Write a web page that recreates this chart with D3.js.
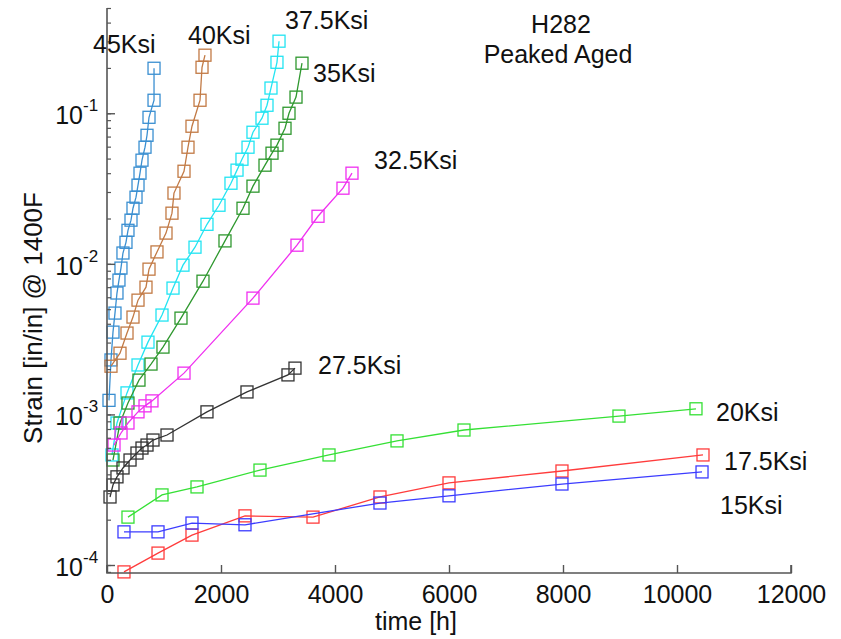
<!DOCTYPE html>
<html>
<head>
<meta charset="utf-8">
<script src="https://cdn.jsdelivr.net/npm/d3@7"></script>
<style>
  html, body { margin: 0; padding: 0; background: #fff; }
  svg { display: block; }
  text { font-family: "Liberation Sans", Arial, Helvetica, sans-serif; fill: #111; }
</style>
</head>
<body>
<svg id="chart" width="841" height="639"></svg>
<script>
// ---------------- data (time [h], strain [in/in]) ----------------
const seriesNames = ["45Ksi", "40Ksi", "37.5Ksi", "35Ksi", "32.5Ksi", "27.5Ksi", "20Ksi", "17.5Ksi", "15Ksi"];

const t45 = [35, 70, 105, 140, 175, 210, 245, 280, 333, 368, 421, 456, 509, 544, 579, 614, 667, 702, 737, 825, 825];
const s45 = [1.24e-3, 2.30e-3, 3.52e-3, 4.71e-3, 6.40e-3, 7.80e-3, 9.37e-3, 1.18e-2, 1.39e-2, 1.67e-2, 1.95e-2, 2.34e-2, 2.77e-2, 3.33e-2, 4.0e-2, 4.88e-2, 5.95e-2, 7.14e-2, 9.4e-2, 0.122, 0.199];

const t40 = [70, 228, 351, 456, 544, 684, 737, 877, 1035, 1140, 1175, 1351, 1421, 1491, 1632, 1667, 1719];
const s40 = [2.09e-3, 2.55e-3, 3.47e-3, 4.43e-3, 5.74e-3, 7.0e-3, 9.22e-3, 1.20e-2, 1.60e-2, 2.17e-2, 2.95e-2, 4.12e-2, 5.95e-2, 8.2e-2, 0.122, 0.202, 0.243];

const t375 = [88, 175, 351, 544, 719, 965, 1158, 1333, 1544, 1754, 1965, 2175, 2281, 2368, 2474, 2561, 2719, 2807, 2877, 2982, 3018];
const s375 = [5.38e-4, 8.77e-4, 1.39e-3, 2.13e-3, 3.02e-3, 4.57e-3, 6.9e-3, 9.8e-3, 1.29e-2, 1.83e-2, 2.45e-2, 3.43e-2, 4.19e-2, 4.95e-2, 5.95e-2, 7.48e-2, 9.27e-2, 0.113, 0.147, 0.218, 0.301];

const t35 = [105, 228, 368, 561, 772, 982, 1298, 1684, 2070, 2386, 2561, 2772, 2895, 2982, 3123, 3193, 3316, 3421];
const s35 = [4.98e-4, 8.77e-4, 1.19e-3, 1.69e-3, 2.16e-3, 2.80e-3, 4.36e-3, 7.67e-3, 1.42e-2, 2.34e-2, 3.28e-2, 4.52e-2, 5.43e-2, 6.14e-2, 7.95e-2, 0.100, 0.128, 0.215];

const t325 = [123, 246, 368, 544, 667, 789, 1351, 2561, 3333, 3702, 4140, 4298];
const s325 = [6.26e-4, 7.53e-4, 8.77e-4, 1.04e-3, 1.14e-3, 1.23e-3, 1.88e-3, 5.92e-3, 1.33e-2, 2.07e-2, 3.18e-2, 4.0e-2];

const t275 = [53, 105, 175, 281, 404, 526, 614, 702, 807, 1053, 1754, 2456, 3175, 3298];
const s275 = [2.83e-4, 3.40e-4, 3.85e-4, 4.41e-4, 4.98e-4, 5.54e-4, 5.98e-4, 6.26e-4, 6.76e-4, 7.30e-4, 1.04e-3, 1.41e-3, 1.83e-3, 2.03e-3];

const t20 = [368, 965, 1579, 2684, 3895, 5088, 6263, 8982, 10333];
const s20 = [2.08e-4, 2.92e-4, 3.30e-4, 4.27e-4, 5.38e-4, 6.67e-4, 7.88e-4, 9.75e-4, 1.09e-3];

const t175 = [298, 895, 1491, 2421, 3614, 4789, 6000, 7982, 10456];
const s175 = [9.0e-5, 1.20e-4, 1.58e-4, 2.12e-4, 2.08e-4, 2.83e-4, 3.51e-4, 4.21e-4, 5.38e-4];

const t15 = [298, 895, 1491, 2421, 4789, 6000, 7982, 10439];
const s15 = [1.66e-4, 1.66e-4, 1.90e-4, 1.85e-4, 2.58e-4, 2.88e-4, 3.45e-4, 4.15e-4];

const xTicks = [0, 2000, 4000, 6000, 8000, 10000, 12000];
const yDecades = [-4, -3, -2, -1];
const titleLines = ["H282", "Peaked Aged"];
const xLabel = "time [h]";
const yLabel = "Strain [in/in] @ 1400F";

// ---------------- styles / layout (kept apart from data) ----------------
const colors = ["#3a8fd1", "#c27a45", "#22e4f2", "#2f982f", "#f030f0", "#333333", "#35e035", "#ff3c3c", "#3c3cff"];
const labelPos = [[93, 53], [188, 44], [285, 29], [313, 82], [374, 169], [318, 374], [716, 421], [724, 470], [720, 514]];

const times = [t45, t40, t375, t35, t325, t275, t20, t175, t15];
const strains = [s45, s40, s375, s35, s325, s275, s20, s175, s15];

const W = 841, H = 639;
const plot = { left: 107, right: 791, top: 8, bottom: 573 };

const svg = d3.select("#chart");
svg.append("rect").attr("width", W).attr("height", H).attr("fill", "#fff");

const x = d3.scaleLinear().domain([0, 12000]).range([plot.left, plot.right]);
const y = d3.scaleLog().domain([8.85e-5, 0.5]).range([plot.bottom, plot.top]);

const axisColor = "#555";
const g = svg.append("g");

// series
const line = d3.line().x(d => x(d[0])).y(d => y(d[1]));
const ms = 12;
seriesNames.forEach((name, i) => {
  const pts = times[i].map((t, j) => [t, strains[i][j]]);
  const sg = g.append("g");
  sg.append("path").attr("d", line(pts)).attr("fill", "none")
    .attr("stroke", colors[i]).attr("stroke-width", 1.3);
  sg.selectAll("rect").data(pts).enter().append("rect")
    .attr("x", d => x(d[0]) - ms / 2).attr("y", d => y(d[1]) - ms / 2)
    .attr("width", ms).attr("height", ms)
    .attr("fill", "none").attr("stroke", colors[i]).attr("stroke-width", 1.3);
});

// axes (MATLAB style, ticks inward, no box)
const xAxis = d3.axisBottom(x).tickValues(xTicks).tickSize(-8).tickPadding(12).tickFormat(d3.format("d"));
const xg = svg.append("g").attr("transform", `translate(0,${plot.bottom})`).call(xAxis);
xg.select(".domain").attr("stroke", axisColor).attr("stroke-width", 1.6).attr("d", `M${plot.left},-8V0H${plot.right}V-8`);
xg.selectAll(".tick line").attr("stroke", axisColor).attr("stroke-width", 1.4);
xg.selectAll(".tick text").attr("font-size", 25).attr("fill", "#111")
  .attr("font-family", '"Liberation Sans", Arial, sans-serif').attr("dy", "0.71em");

// y axis: minor + major ticks
const minorVals = [];
for (let e = -5; e <= 0; e++) for (let m = 1; m <= 9; m++) {
  const v = m * Math.pow(10, e);
  if (v >= y.domain()[0] && v <= y.domain()[1]) minorVals.push(v);
}
const yAxisMinor = d3.axisLeft(y).tickValues(minorVals).tickSize(-4).tickFormat("");
const ygm = svg.append("g").attr("transform", `translate(${plot.left},0)`).call(yAxisMinor);
ygm.select(".domain").attr("stroke", axisColor).attr("stroke-width", 1.6).attr("d", `M0,${plot.bottom}V${plot.top}`);
ygm.selectAll(".tick line").attr("stroke", axisColor).attr("stroke-width", 1.2);

const majorVals = yDecades.map(e => Math.pow(10, e));
const yAxisMajor = d3.axisLeft(y).tickValues(majorVals).tickSize(-8).tickFormat("");
const ygM = svg.append("g").attr("transform", `translate(${plot.left},0)`).call(yAxisMajor);
ygM.select(".domain").remove();
ygM.selectAll(".tick line").attr("stroke", axisColor).attr("stroke-width", 1.4);

// y tick labels 10^e
yDecades.forEach(e => {
  const yy = y(Math.pow(10, e));
  svg.append("text").attr("x", 83).attr("y", yy + 11).attr("text-anchor", "end")
    .attr("font-size", 25).text("10");
  svg.append("text").attr("x", 83).attr("y", yy - 2).attr("text-anchor", "start")
    .attr("font-size", 17).text("-" + (-e));
});

// axis labels
svg.append("text").attr("x", 416).attr("y", 630).attr("text-anchor", "middle")
  .attr("font-size", 25).text(xLabel);
svg.append("text").attr("transform", `translate(42,${318}) rotate(-90)`).attr("text-anchor", "middle")
  .attr("font-size", 26).text(yLabel);

// title
svg.append("text").attr("x", 561).attr("y", 33).attr("text-anchor", "middle").attr("font-size", 25).text(titleLines[0]);
svg.append("text").attr("x", 558).attr("y", 63).attr("text-anchor", "middle").attr("font-size", 25).text(titleLines[1]);

// series labels
seriesNames.forEach((name, i) => {
  svg.append("text").attr("x", labelPos[i][0]).attr("y", labelPos[i][1])
    .attr("font-size", 25).text(name);
});
</script>
</body>
</html>
